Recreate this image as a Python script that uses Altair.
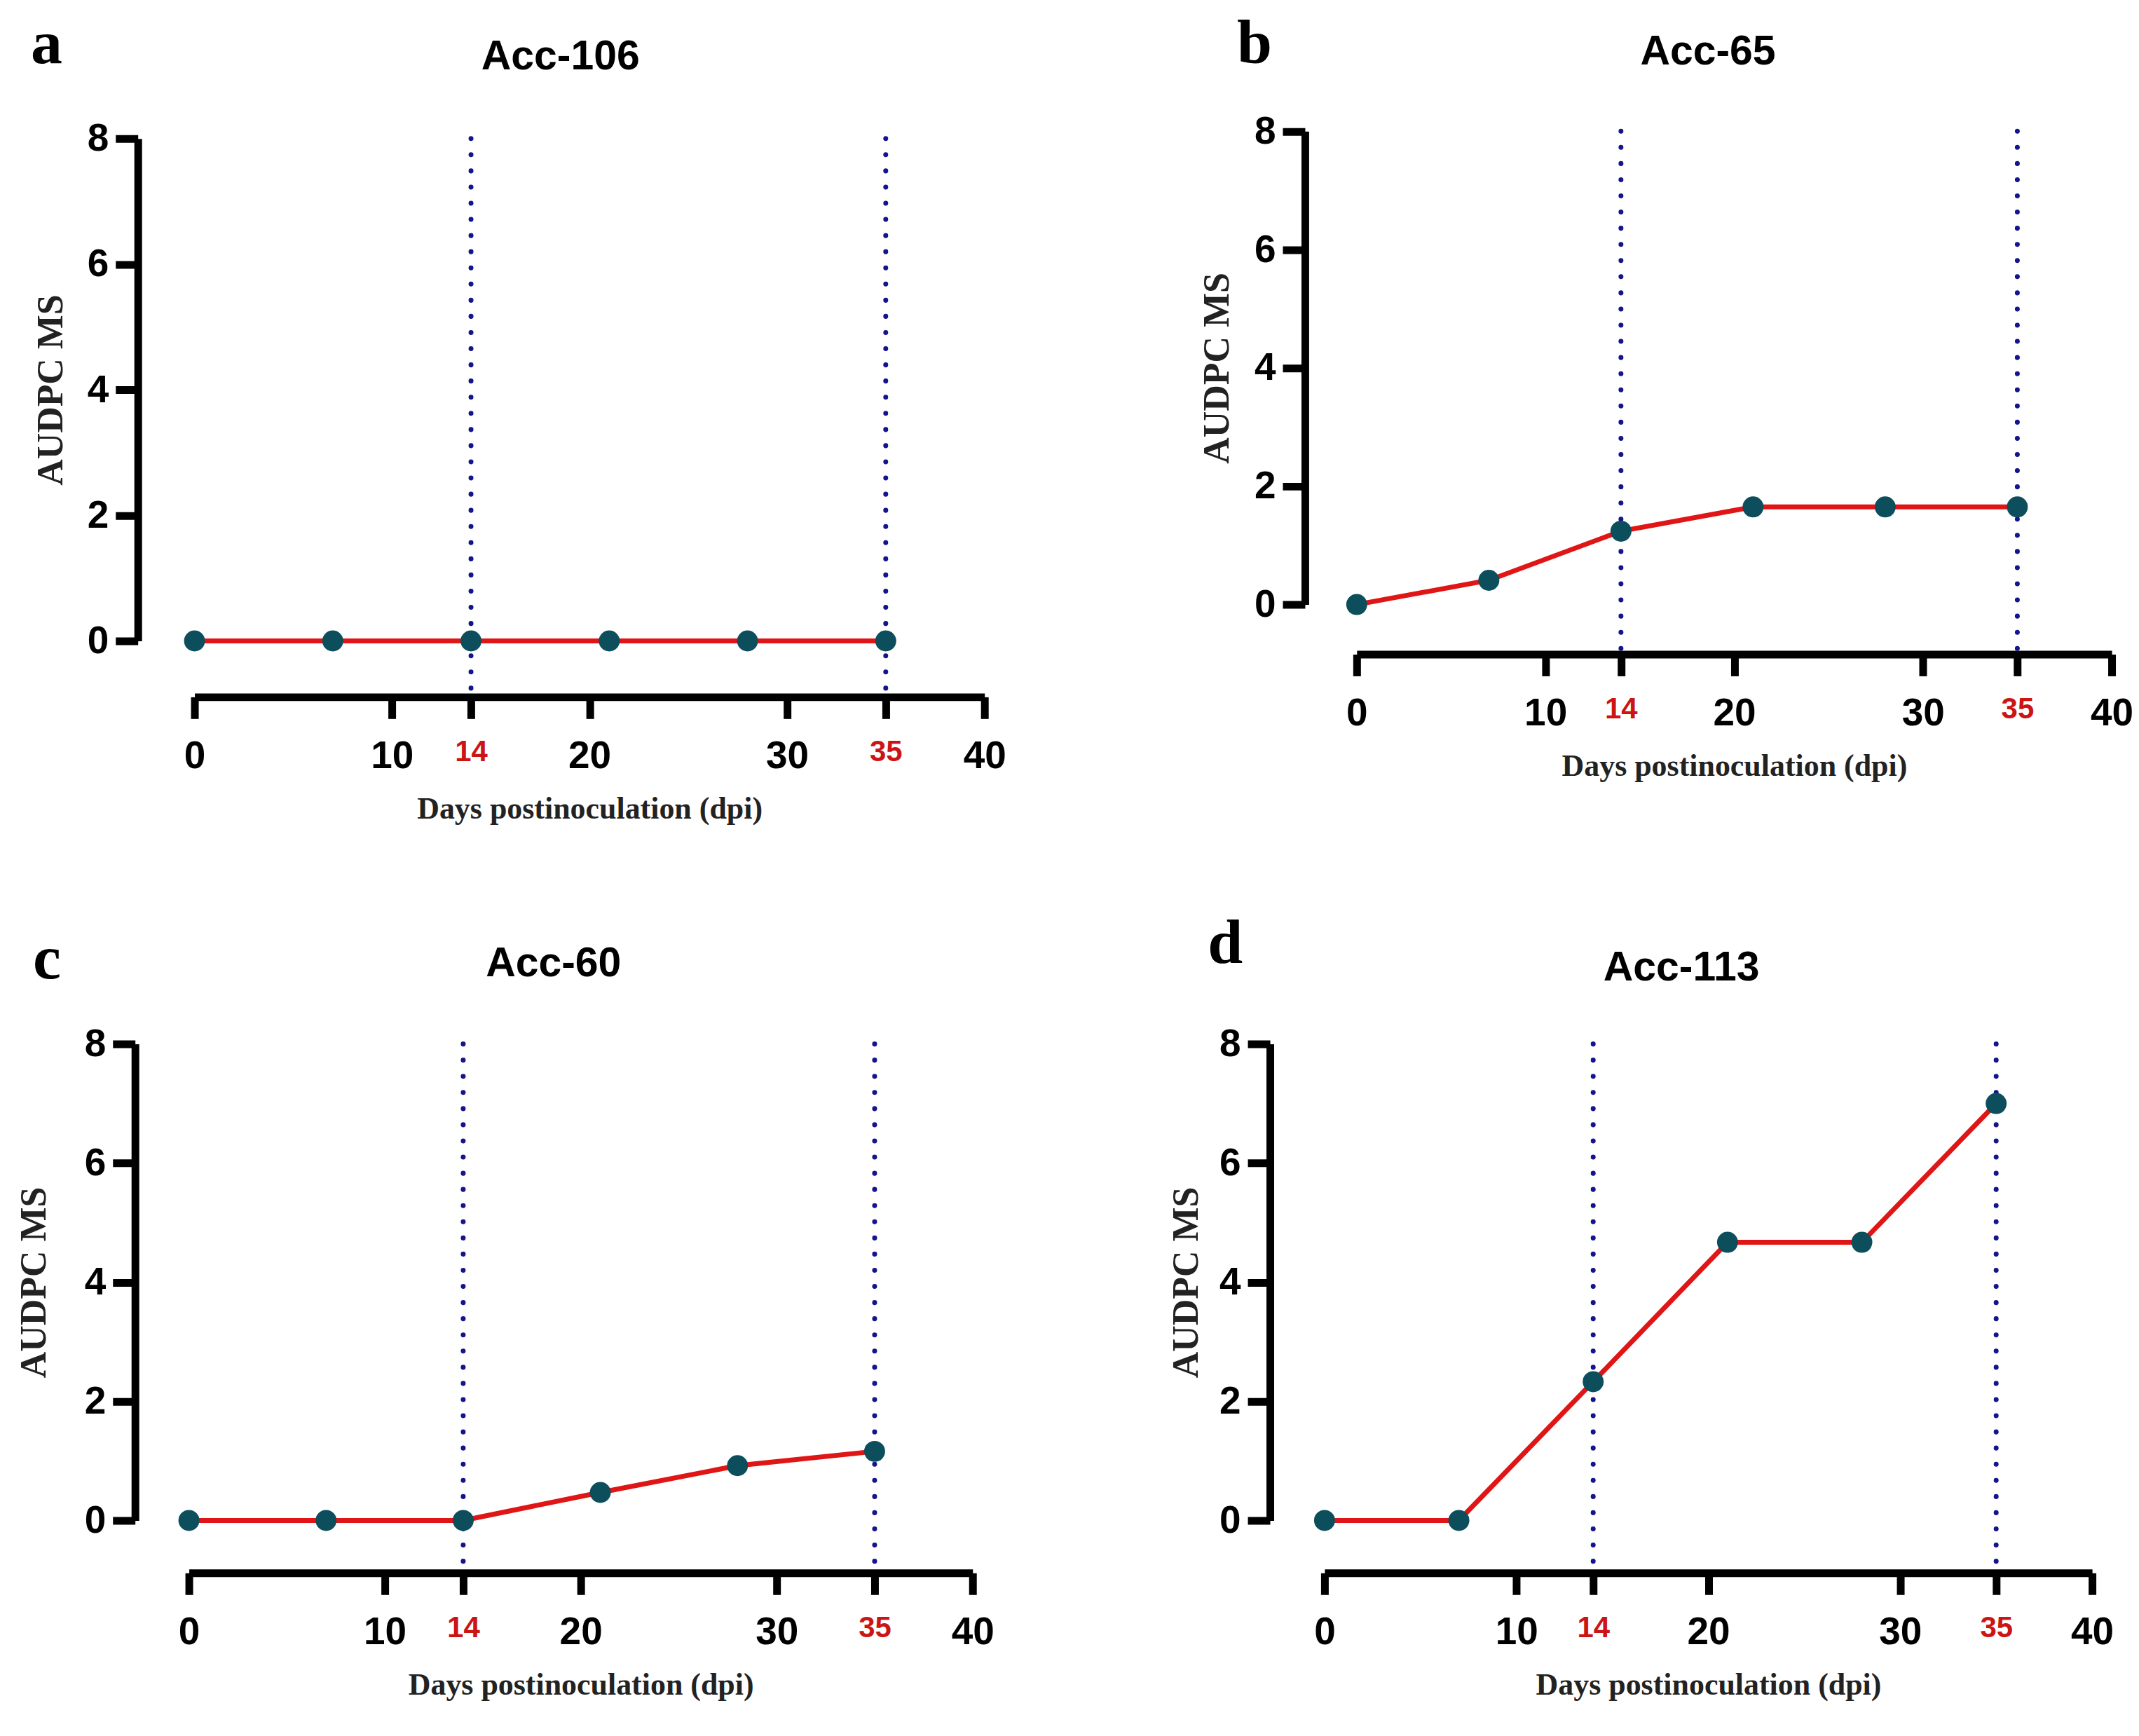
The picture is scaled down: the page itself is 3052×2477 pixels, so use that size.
import altair as alt
import pandas as pd

# ---- data ----
days = [0, 7, 14, 21, 28, 35]
acc_106 = [0, 0, 0, 0, 0, 0]
acc_65 = [0, 0.41, 1.24, 1.65, 1.65, 1.65]
acc_60 = [0, 0, 0, 0.47, 0.92, 1.16]
acc_113 = [0, 0, 2.33, 4.67, 4.67, 7.0]
panel_letters = ["a", "b", "c", "d"]
panel_titles = ["Acc-106", "Acc-65", "Acc-60", "Acc-113"]
panel_values = [acc_106, acc_65, acc_60, acc_113]
marker_days = [14, 35]
x_tick_values = [0, 10, 14, 20, 30, 35, 40]
y_tick_values = [0, 2, 4, 6, 8]
x_title = "Days postinoculation (dpi)"
y_title = "AUDPC MS"

# ---- layout (pixels, relative to each panel's origin) ----
layout = [
    dict(w=1129, h=718, xr=[0, 1129], yr=[718, 0], yoff=81, xoff=80, tpad=25,
         ldx=-234, ldy=-108, tx=523, ty=-99),
    dict(w=1079, h=666, xr=[0, 1079], yr=[666, -10.5], yoff=74, xoff=71, tpad=26,
         ldx=-171, ldy=-108, tx=502, ty=-106),
    dict(w=1112, h=681, xr=[-8, 1112], yr=[681, 0], yoff=85, xoff=75, tpad=45,
         ldx=-231, ldy=-94, tx=513, ty=-97),
    dict(w=1097, h=681, xr=[0, 1097], yr=[681, 0], yoff=78, xoff=75, tpad=20,
         ldx=-167, ldy=-116, tx=510, ty=-91),
]

RED = "#e01515"
TEAL = "#0d4e5d"
NAVY = "#14148c"
LABEL_RED = "#cc1414"
is_marker = "datum.value == 14 || datum.value == 35"


def panel(letter, title, values, L):
    df = pd.DataFrame({"day": days, "audpc": values})
    x = alt.X(
        "day:Q",
        scale=alt.Scale(domain=[0, 40], nice=False, zero=False, range=L["xr"]),
        axis=alt.Axis(
            values=x_tick_values, title=x_title, offset=L["xoff"], grid=False,
            domainColor="black", domainWidth=11, tickColor="black", tickWidth=11,
            tickSize=31, labelPadding=27, labelFlush=False, labelOverlap=False,
            labelFont="Liberation Sans", labelFontWeight="bold",
            labelFontSize={"condition": {"test": is_marker, "value": 42}, "value": 55},
            labelColor={"condition": {"test": is_marker, "value": LABEL_RED}, "value": "black"},
            titleFont="Liberation Serif", titleFontWeight="bold", titleFontSize=44,
            titleColor="#222222", titlePadding=26,
        ),
    )
    y = alt.Y(
        "audpc:Q",
        scale=alt.Scale(domain=[0, 8], nice=False, range=L["yr"]),
        axis=alt.Axis(
            values=y_tick_values, title=y_title, offset=L["yoff"], grid=False,
            domainColor="black", domainWidth=11, tickColor="black", tickWidth=11,
            tickSize=32, labelPadding=10, labelFlush=False,
            labelFont="Liberation Sans", labelFontWeight="bold", labelFontSize=55,
            labelColor="black",
            titleFont="Liberation Serif", titleFontWeight="bold", titleFontSize=52,
            titleColor="#222222", titlePadding=L["tpad"],
        ),
    )
    rule_df = pd.DataFrame({"day": marker_days, "audpc": [y_tick_values[-1]] * len(marker_days)})
    rules = alt.Chart(rule_df).mark_rule(
        color=NAVY, strokeWidth=7, strokeDash=[0.1, 23], strokeCap="round"
    ).encode(x=x, y=y, y2=alt.value(L["h"] + L["xoff"]))
    line = alt.Chart(df).mark_line(color=RED, strokeWidth=7).encode(x=x, y=y)
    pts = alt.Chart(df).mark_circle(color=TEAL, opacity=1, size=900).encode(x=x, y=y)
    lab = alt.Chart(pd.DataFrame({"t": [letter]})).mark_text(
        font="Liberation Serif", fontWeight="bold", fontSize=90, align="left",
        baseline="alphabetic", color="black",
    ).encode(text="t:N", x=alt.value(L["ldx"]), y=alt.value(L["ldy"]))
    ttl = alt.Chart(pd.DataFrame({"t": [title]})).mark_text(
        font="Liberation Sans", fontWeight="bold", fontSize=59, align="center",
        baseline="alphabetic", color="black",
    ).encode(text="t:N", x=alt.value(L["tx"]), y=alt.value(L["ty"]))
    return alt.layer(rules, line, pts, lab, ttl).properties(width=L["w"], height=L["h"])


p = [panel(panel_letters[i], panel_titles[i], panel_values[i], layout[i]) for i in range(4)]
row1 = alt.hconcat(p[0], p[1], spacing=275)
row2 = alt.hconcat(p[2], p[3], spacing=248)
chart = (
    alt.vconcat(row1, row2, spacing=126)
    .properties(padding={"left": 14, "top": 8, "right": 0, "bottom": 5})
    .configure_view(stroke=None)
)
chart.save("out.html", embed_options={"renderer": "svg", "actions": False})
